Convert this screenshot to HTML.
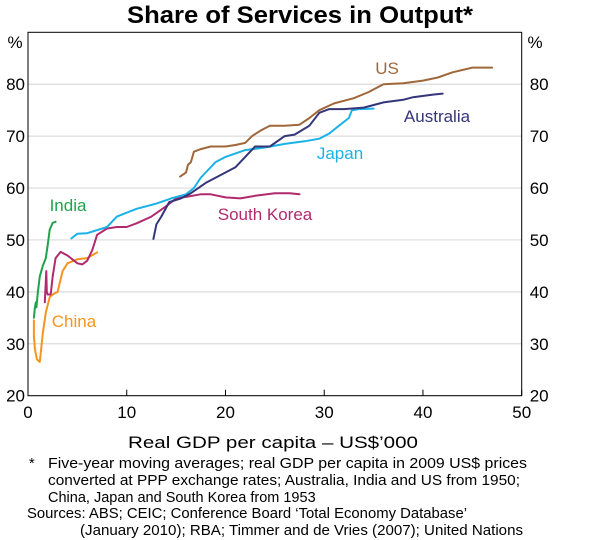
<!DOCTYPE html>
<html><head><meta charset="utf-8"><style>
html,body{margin:0;padding:0;background:#fff;}
svg{display:block;font-family:"Liberation Sans",Arial,sans-serif;}
</style></head><body>
<svg id="chart" width="600" height="540" viewBox="0 0 600 540">
<text x="300" y="23" text-anchor="middle" font-size="24" font-weight="bold" textLength="346" lengthAdjust="spacingAndGlyphs">Share of Services in Output*</text>
<g id="grid"></g>
<rect x="28" y="32.3" width="493.7" height="363.4" fill="none" stroke="#000" stroke-width="1"/>
<g id="ticks"></g>
<g id="series"></g>
<text x="15" y="48" font-size="17" text-anchor="middle">%</text>
<text x="535" y="48" font-size="17" text-anchor="middle">%</text>
<text x="387" y="74" font-size="17" fill="#a0673a" text-anchor="middle">US</text>
<text x="437" y="122" font-size="17" fill="#35357a" text-anchor="middle">Australia</text>
<text x="340" y="159" font-size="17" fill="#1ab2e8" text-anchor="middle">Japan</text>
<text x="265" y="220" font-size="17" fill="#b02a6e" text-anchor="middle">South Korea</text>
<text x="68" y="211" font-size="17" fill="#1fa34a" text-anchor="middle">India</text>
<text x="74" y="327" font-size="17" fill="#f7941d" text-anchor="middle">China</text>
<text x="273" y="448" font-size="17" text-anchor="middle" textLength="290" lengthAdjust="spacingAndGlyphs">Real GDP per capita – US$’000</text>
<g font-size="14.5">
<text x="29" y="468">*</text>
<text x="48" y="468" textLength="479" lengthAdjust="spacingAndGlyphs">Five-year moving averages; real GDP per capita in 2009 US$ prices</text>
<text x="48" y="485" textLength="472" lengthAdjust="spacingAndGlyphs">converted at PPP exchange rates; Australia, India and US from 1950;</text>
<text x="48" y="502">China, Japan and South Korea from 1953</text>
<text x="27" y="518" textLength="440" lengthAdjust="spacingAndGlyphs">Sources: ABS; CEIC; Conference Board ‘Total Economy Database’</text>
<text x="80" y="535" textLength="443" lengthAdjust="spacingAndGlyphs">(January 2010); RBA; Timmer and de Vries (2007); United Nations</text>
</g>
</svg>
<script>
const xTicks=[0,10,20,30,40,50];
const yTicks=[20,30,40,50,60,70,80];
const usX=[15.4,16.0,16.2,16.5,16.8,17.5,18.5,20,21,22,22.7,23.5,24.5,26,27.5,28.5,29.5,31,33,34.5,36,38,40,41.5,43,45,47];
const usY=[62.2,63,64.5,65,67,67.5,68,68,68.3,68.7,70,71,72,72,72.2,73.5,75,76.3,77.3,78.5,80,80.2,80.7,81.3,82.3,83.2,83.2];
const auX=[12.7,13.0,13.5,14.3,15.5,16.5,18,19.5,20,21,22,23,24.5,26,27,28.5,29.5,30.5,32,34,36,38,39,41,42];
const auY=[50.2,53,54.5,57.3,58,59,61,62.5,63,64,66,68,68,70,70.3,72,74.5,75.2,75.2,75.5,76.5,77,77.5,78,78.2];
const jpX=[4.4,5,6,8,9,11,13,14.5,16,16.8,17.5,18,19,20,22,24,26,28,29.5,30.5,31.5,32.5,32.8,33.5,35];
const jpY=[50.3,51.2,51.3,52.5,54.5,56,57,58,58.8,60,62,63,65,66,67.3,67.8,68.5,69,69.5,70.5,72,73.5,75,75.2,75.3];
const krX=[1.7,1.85,1.9,2.0,2.3,2.5,2.8,3.3,4,5,5.5,6,6.5,7,8,9,10,11,12.5,14,15,16,17.5,18.5,20,21.5,23,25,26.5,27.5];
const krY=[38,44,40,39.5,39.5,43,46.5,47.7,47,45.5,45.3,46,48,51,52.2,52.5,52.5,53.2,54.5,56.5,58,58.3,58.8,58.8,58.2,58,58.5,59,59,58.8];
const inX=[0.6,0.7,0.8,0.85,1.0,1.2,1.5,1.8,2.0,2.2,2.5,2.8];
const inY=[35,37,38,37,40,43,45,46.5,49,52,53.3,53.5];
const cnX=[0.6,0.6,0.7,0.9,1.2,1.5,1.8,2.2,2.5,3.0,3.5,4,5,6,7];
const cnY=[34.5,31.5,29,27,26.5,32,36,39,39.5,40,44,45.5,46.3,46.5,47.6];

const NS="http://www.w3.org/2000/svg";
const L=28,R=521.7,T=32.3,B=395.7;
function sx(v){return L+(v-0)/(50-0)*(R-L);}
function sy(v){return B-(v-20)/(90-20)*(B-T);}
function mk(tag,attrs,parent){const e=document.createElementNS(NS,tag);for(const k in attrs)e.setAttribute(k,attrs[k]);parent.appendChild(e);return e;}
const grid=document.getElementById('grid'),ticks=document.getElementById('ticks'),series=document.getElementById('series');
yTicks.forEach(v=>{
  const g=mk('line',{x1:L,x2:R,y1:sy(v),y2:sy(v),stroke:'#dcdcdc','stroke-width':1.2},grid);
  
  
  const a=mk('text',{x:L-3,y:sy(v)+6,'font-size':17,'text-anchor':'end'},ticks);a.textContent=v;
  
  
  const b=mk('text',{x:R+8,y:sy(v)+6,'font-size':17,'text-anchor':'start'},ticks);b.textContent=v;
  
  
});
xTicks.forEach(v=>{
  const t=mk('line',{x1:sx(v),x2:sx(v),y1:B,y2:B-6,stroke:'#000','stroke-width':1},ticks);
  
  
  const a=mk('text',{x:sx(v),y:418,'font-size':17,'text-anchor':'middle'},ticks);a.textContent=v;
  
  
});
function line(xs,ys,color,name){
  const d=xs.map((x,i)=>(i?'L':'M')+sx(x).toFixed(1)+','+sy(ys[i]).toFixed(1)).join('');
  const p=mk('path',{d:d,fill:'none',stroke:color,'stroke-width':2,'stroke-linejoin':'round','stroke-linecap':'round'},series);
  
  
}
line(cnX,cnY,'#f7941d','series-china');
line(inX,inY,'#1fa34a','series-india');
line(krX,krY,'#b02a6e','series-south-korea');
line(jpX,jpY,'#1ab2e8','series-japan');
line(usX,usY,'#a0673a','series-us');
line(auX,auY,'#35357a','series-australia');
</script>
</body></html>
